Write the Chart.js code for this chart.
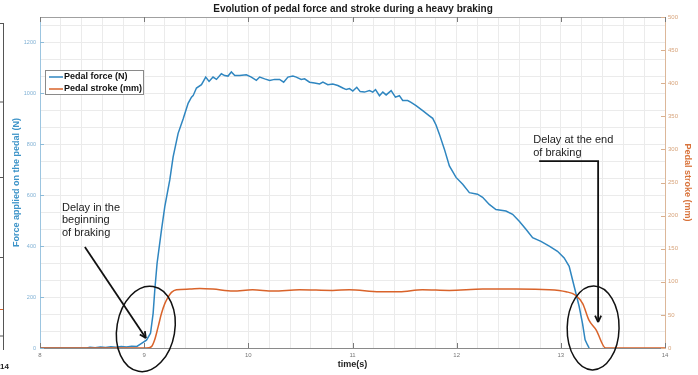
<!DOCTYPE html>
<html>
<head>
<meta charset="utf-8">
<script src="https://cdn.jsdelivr.net/npm/chart.js@4.4.1/dist/chart.umd.min.js"></script>
<style>
html,body{margin:0;padding:0;background:#fff;}
canvas{display:block;}
</style>
</head>
<body>
<canvas id="c" width="698" height="375"></canvas>
<script>
// ---- data ----
const forceTime = [8.00,8.45,8.48,8.53,8.58,8.63,8.68,8.73,8.78,8.83,8.88,8.93,8.975,9.022,9.061,9.086,9.102,9.124,9.166,9.198,9.246,9.278,9.326,9.374,9.422,9.454,9.47,9.502,9.55,9.572,9.591,9.623,9.661,9.694,9.741,9.773,9.805,9.837,9.87,9.917,9.981,10.029,10.077,10.109,10.157,10.205,10.252,10.3,10.339,10.38,10.428,10.46,10.508,10.54,10.588,10.636,10.684,10.716,10.763,10.811,10.859,10.907,10.94,10.971,11.003,11.041,11.074,11.115,11.163,11.195,11.221,11.259,11.291,11.323,11.371,11.412,11.45,11.482,11.53,11.562,11.61,11.674,11.738,11.77,11.802,11.834,11.882,11.93,11.994,12.058,12.122,12.2,12.249,12.313,12.377,12.473,12.537,12.601,12.665,12.729,12.809,12.889,12.968,13.032,13.08,13.112,13.144,13.176,13.208,13.233,13.256,13.272];
const forceN = [0,0,3,1,4,2,5,3,6,4,7,6,18,31,58,136,228,333,463,555,660,751,843,899,961,985,991,1021,1034,1050,1064,1047,1064,1055,1077,1070,1068,1084,1070,1070,1073,1064,1051,1064,1057,1051,1055,1055,1044,1064,1068,1064,1055,1057,1044,1041,1037,1044,1034,1037,1031,1021,1015,1019,1009,1024,1007,1005,1011,1005,1015,991,1005,994,1011,985,991,972,972,965,952,932,912,902,876,840,781,715,670,643,610,604,592,564,544,538,525,498,466,433,419,400,380,354,321,268,216,163,97,32,12,0];
const strokeTime = [8.00,9.02,9.07,9.10,9.134,9.166,9.198,9.23,9.262,9.31,9.438,9.534,9.66,9.853,10.04,10.24,10.49,10.81,10.97,11.26,11.45,11.67,11.93,12.25,12.57,12.89,13.05,13.14,13.21,13.27,13.34,13.43,14.00];
const strokeMm = [0,0,2,12,32,52,67,77,84,88,89,90,89,86,88,86,88,87,88,85,85,88,87,89,89,88,85,80,67,42,27,0,0];
const xTickValues = [8,9,10,11,12,13,14];
const forceTickValues = [0,200,400,600,800,1000,1200];
const strokeTickValues = [0,50,100,150,200,250,300,350,400,450,500];
const seriesLabels = ['Pedal force (N)','Pedal stroke (mm)'];

// ---- styles ----
const BLUE = '#2f86c0', ORANGE = '#d9632a';
const FONT = "'Liberation Sans', Arial, sans-serif";
Chart.defaults.font.family = FONT;

function near(v, step){ const r = v/step; return Math.abs(r - Math.round(r)) < 1e-6; }

const decor = {
  id: 'decor',
  afterDraw(chart){
    const {ctx, chartArea: a, scales} = chart;
    const x = scales.x, y = scales.y, y1 = scales.y1;
    const ln = (x1,y1_,x2,y2) => { ctx.beginPath(); ctx.moveTo(x1,y1_); ctx.lineTo(x2,y2); ctx.stroke(); };
    ctx.save();
    ctx.lineWidth = 1;
    // top border of the box
    ctx.strokeStyle = '#a0a0a0';
    ln(a.left, a.top + 0.5, a.right, a.top + 0.5);
    // x tick marks (inward), bottom and top
    ctx.strokeStyle = '#7a7a7a';
    xTickValues.forEach(v => {
      const px = Math.round(x.getPixelForValue(v)) + 0.5;
      ln(px, a.bottom, px, a.bottom - 5);
      ln(px, a.top, px, a.top + 5);
    });
    // left ticks
    ctx.strokeStyle = '#8dbbd9';
    forceTickValues.forEach(v => {
      const py = Math.round(y.getPixelForValue(v)) + 0.5;
      ln(a.left, py, a.left + 4, py);
    });
    // right ticks
    ctx.strokeStyle = '#d9b08f';
    strokeTickValues.forEach(v => {
      const py = Math.round(y1.getPixelForValue(v)) + 0.5;
      ln(a.right - 4, py, a.right, py);
    });

    // legend
    const lx = a.left + 5, ly = a.top + 53;
    ctx.fillStyle = '#fff';
    ctx.fillRect(lx + 0.5, ly + 0.5, 98, 24);
    ctx.strokeStyle = '#8a8a8a';
    ctx.strokeRect(lx + 0.5, ly + 0.5, 98, 24);
    ctx.font = 'bold 9px ' + FONT;
    ctx.textBaseline = 'middle';
    ctx.textAlign = 'left';
    chart.data.datasets.forEach((ds, i) => {
      const cy = ly + 7 + i * 12;
      ctx.strokeStyle = ds.borderColor; ctx.lineWidth = 1.5;
      ln(lx + 4, cy, lx + 18, cy);
      ctx.fillStyle = '#111';
      ctx.fillText(ds.label, lx + 19, cy);
    });

    // annotations
    ctx.strokeStyle = '#111';
    ctx.fillStyle = '#222';
    ctx.font = '11px ' + FONT;
    ctx.textBaseline = 'alphabetic';
    const px = t => x.getPixelForValue(t), py = n => y.getPixelForValue(n);
    const arrowHead = (x1,y1_,x2,y2) => {
      const ang = Math.atan2(y2 - y1_, x2 - x1), L = 7, w = 0.45;
      ln(x2, y2, x2 - L*Math.cos(ang - w), y2 - L*Math.sin(ang - w));
      ln(x2, y2, x2 - L*Math.cos(ang + w), y2 - L*Math.sin(ang + w));
    };
    // note 1
    ['Delay in the','beginning','of braking'].forEach((s,i) => ctx.fillText(s, px(8.211), py(540) + i*12.8));
    ctx.lineWidth = 1.8;
    const a1 = [px(8.431), py(397), px(9.016), py(39)];
    ln(...a1); arrowHead(...a1);
    ctx.lineWidth = 1.5;
    ctx.beginPath();
    ctx.ellipse(px(9.016), py(75), px(9.294) - px(9.016), py(75) - py(244), 0.17, 0, Math.PI*2);
    ctx.stroke();
    // note 2
    ['Delay at the end','of braking'].forEach((s,i) => ctx.fillText(s, px(12.735), py(805) + i*13));
    ctx.lineWidth = 1.8;
    ctx.beginPath();
    ctx.moveTo(px(12.792), py(734)); ctx.lineTo(px(13.358), py(734)); ctx.lineTo(px(13.358), py(102));
    ctx.stroke();
    arrowHead(px(13.358), py(734), px(13.358), py(102));
    ctx.lineWidth = 1.5;
    ctx.beginPath();
    ctx.ellipse(px(13.31), py(79), px(13.559) - px(13.31), py(79) - py(244), 0.02, 0, Math.PI*2);
    ctx.stroke();

    // left-edge fragment of a neighbouring figure
    ctx.strokeStyle = '#555'; ctx.lineWidth = 1;
    ln(3.5, 23, 3.5, 350);
    [23, 101.5, 177, 257, 335.5].forEach(v => ln(0, v + 0.5, 3.5, v + 0.5));
    ctx.strokeStyle = ORANGE; ln(0, 309.5, 3, 309.5);
    ctx.fillStyle = '#222';
    ctx.font = 'bold 8px ' + FONT;
    ctx.textBaseline = 'middle';
    ctx.fillText('14', 0, 367);
    ctx.restore();
  }
};

const fixW = w => s => { s.width = w; };

new Chart(document.getElementById('c'), {
  type: 'line',
  data: {
    datasets: [
      { label: seriesLabels[0], data: forceTime.map((t,i) => ({x: t, y: forceN[i]})),
        borderColor: BLUE, backgroundColor: BLUE, borderWidth: 1.5, pointRadius: 0, tension: 0, yAxisID: 'y', order: 1 },
      { label: seriesLabels[1], data: strokeTime.map((t,i) => ({x: t, y: strokeMm[i]})),
        borderColor: ORANGE, backgroundColor: ORANGE, borderWidth: 1.5, pointRadius: 0, cubicInterpolationMode: 'monotone', yAxisID: 'y1', order: 0 }
    ]
  },
  options: {
    responsive: false,
    devicePixelRatio: 1,
    animation: false,
    layout: { padding: { left: 8, right: 0, top: 0, bottom: 0 } },
    plugins: {
      legend: { display: false },
      tooltip: { enabled: false },
      title: { display: true, text: 'Evolution of pedal force and stroke during a heavy braking',
        color: '#1a1a1a', font: { size: 10, weight: 'bold' }, padding: { top: 3, bottom: 2 } }
    },
    scales: {
      x: {
        type: 'linear', min: 8, max: 14,
        afterBuildTicks: s => { const t = []; for (let k = 0; k <= 30; k++) t.push({ value: +(8 + k*0.2).toFixed(1) }); s.ticks = t; },
        afterFit: s => { s.height = 27; },
        ticks: { autoSkip: false, maxRotation: 0, padding: 4, color: '#777', font: { size: 6 },
          callback: v => near(v, 1) ? String(Math.round(v)) : '' },
        grid: { color: '#ebebeb', drawTicks: false },
        border: { color: '#8a8a8a' },
        title: { display: true, text: 'time(s)', color: '#222', font: { size: 9, weight: 'bold' }, padding: { top: 0, bottom: 4.6 } }
      },
      y: {
        type: 'linear', position: 'left', min: 0, max: 1300,
        afterBuildTicks: s => { const t = []; for (let k = 0; k <= 19; k++) t.push({ value: k*200/3 }); s.ticks = t; },
        afterFit: fixW(32),
        ticks: { autoSkip: false, padding: 4, color: '#7fb0d4', font: { size: 5.5 },
          callback: v => near(v, 200) ? String(Math.round(v)) : '' },
        grid: { color: '#ebebeb', drawTicks: false },
        border: { color: '#9cc5e0' },
        title: { display: true, text: 'Force applied on the pedal (N)', color: '#3c93c8',
          font: { size: 9, weight: 'bold' }, padding: { top: 3.6, bottom: 0 } }
      },
      y1: {
        type: 'linear', position: 'right', min: 0, max: 500,
        afterFit: fixW(33),
        ticks: { stepSize: 50, autoSkip: false, padding: 3, color: '#d7a37a', font: { size: 6 } },
        grid: { drawOnChartArea: false, drawTicks: false },
        border: { color: '#dcb799' },
        title: { display: true, text: 'Pedal stroke (mm)', color: '#d8733b',
          font: { size: 9, weight: 'bold' }, padding: { top: 5.6, bottom: 0 } }
      }
    }
  },
  plugins: [decor]
});
</script>
</body>
</html>
